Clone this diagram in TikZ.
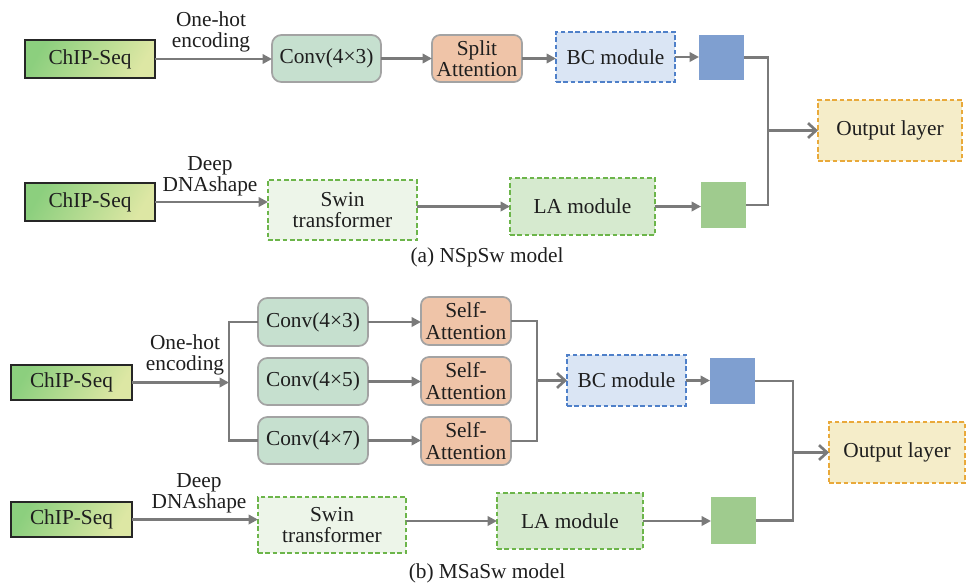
\documentclass[tikz,border=0pt]{standalone}
\usepackage{fontspec}
\setmainfont{Liberation Serif}
\usetikzlibrary{arrows.meta,fit,calc}
\definecolor{chipA}{HTML}{8CCF7E}
\definecolor{chipB}{HTML}{DDE7A4}
\definecolor{convfill}{HTML}{C6E0CF}
\definecolor{bordgray}{HTML}{A3A3A3}
\definecolor{attfill}{HTML}{EFC4A8}
\definecolor{bcblue}{HTML}{4F80C9}
\definecolor{bcfill}{HTML}{DAE5F4}
\definecolor{sqblue}{HTML}{7F9FD0}
\definecolor{sqgreen}{HTML}{9FCB8E}
\definecolor{outorange}{HTML}{E9A93A}
\definecolor{outfill}{HTML}{F5EDC9}
\definecolor{swinborder}{HTML}{6CB54A}
\definecolor{swinfill}{HTML}{EDF5E9}
\definecolor{lafill}{HTML}{D6EACF}
\definecolor{arrgray}{HTML}{7A7A7A}
\definecolor{txt}{HTML}{1E1E1E}
\begin{document}
\begin{tikzpicture}[x=0.75pt,y=-0.75pt,
  font=\rmfamily\fontsize{16}{16}\selectfont, text=txt,
  every node/.style={inner sep=0pt, outer sep=0pt, align=center},
  chipbox/.style={draw=black!85, line width=0.8pt, left color=chipA, right color=chipB, shading angle=60},
  convbox/.style={draw=bordgray, line width=1.3pt, fill=convfill, rounded corners=7pt},
  attbox/.style={draw=bordgray, line width=1.3pt, fill=attfill, rounded corners=6pt},
  bcbox/.style={draw=bcblue, line width=1.3pt, dash pattern=on 3.5pt off 2pt, fill=bcfill},
  swinbox/.style={draw=swinborder, line width=1.3pt, dash pattern=on 3.5pt off 2pt, fill=swinfill},
  labox/.style={draw=swinborder, line width=1.3pt, dash pattern=on 3.5pt off 2pt, fill=lafill},
  outbox/.style={draw=outorange, line width=1.3pt, dash pattern=on 3.5pt off 2pt, fill=outfill},
  bsq/.style={fill=sqblue},
  gsq/.style={fill=sqgreen},
  conn/.style={draw=arrgray, line width=2pt},
  arr/.style={conn, -{Triangle[length=7pt,width=7pt]}},
  oarr/.style={conn, -{Straight Barb[length=6pt,width=11pt]}},
]
\useasboundingbox (0,0) rectangle (967,583);

% ---------- (a) ----------
\node[chipbox, fit={(25,40)(155,78)}] (chip1) {};
\node at (chip1.center) {ChIP-Seq};
\node[convbox, fit={(272,35)(381,82)}] (conv1) {};
\node at (conv1.center) {Conv(4×3)};
\node[attbox, fit={(432,35)(522,82)}] (split) {};
\node at (split.center) {Split\\Attention};
\node[bcbox, fit={(556,32)(675,82)}] (bc1) {};
\node at (bc1.center) {BC module};
\node[bsq, fit={(699,35)(744,80)}] (sqb1) {};
\node[outbox, fit={(818,100)(962,161)}] (out1) {};
\node at (out1.center) {Output layer};
\node[gsq, fit={(701,182)(746,228)}] (sqg1) {};
\node[chipbox, fit={(25,183)(155,221)}] (chip2) {};
\node at (chip2.center) {ChIP-Seq};
\node[swinbox, fit={(268,180)(417,240)}] (swin1) {};
\node at (swin1.center) {Swin\\transformer};
\node[labox, fit={(510,178)(655,235)}] (la1) {};
\node at (la1.center) {LA module};
\node (lab1) at (211,32) {One-hot\\encoding};
\node (lab2) at (210,176) {Deep\\DNAshape};
\node (capa) at (487,257) {(a) NSpSw model};
\coordinate (j1) at (768,130.5);

\draw[arr] (chip1.east) -- (chip1.east -| conv1.west);
\draw[arr] (conv1.east) -- (split.west);
\draw[arr] (split.east) -- (split.east -| bc1.west);
\draw[arr] (bc1.east) -- (bc1.east -| sqb1.west);
\draw[conn] (sqb1.east) -| (j1);
\draw[conn] (sqg1.east) -| (j1);
\draw[oarr] (j1) -- (out1.west);
\draw[arr] (chip2.east) -- (chip2.east -| swin1.west);
\draw[arr] (la1.west -| swin1.east) -- (la1.west);
\draw[arr] (la1.east) -- (la1.east -| sqg1.west);

% ---------- (b) ----------
\node[chipbox, fit={(11,365)(132,400)}] (chip3) {};
\node at (chip3.center) {ChIP-Seq};
\node[convbox, fit={(258,298)(368,346)}] (conv3) {};
\node at (conv3.center) {Conv(4×3)};
\node[convbox, fit={(258,358)(368,405)}] (conv5) {};
\node at (conv5.center) {Conv(4×5)};
\node[convbox, fit={(258,417)(368,464)}] (conv7) {};
\node at (conv7.center) {Conv(4×7)};
\node[attbox, fit={(421,297)(511,345)}] (sa1) {};
\node at (sa1.center) {Self-\\Attention};
\node[attbox, fit={(421,357)(511,405)}] (sa2) {};
\node at (sa2.center) {Self-\\Attention};
\node[attbox, fit={(421,417)(511,465)}] (sa3) {};
\node at (sa3.center) {Self-\\Attention};
\node[bcbox, fit={(567,355)(686,406)}] (bc2) {};
\node at (bc2.center) {BC module};
\node[bsq, fit={(710,358)(755,404)}] (sqb2) {};
\node[gsq, fit={(711,497)(756,544)}] (sqg2) {};
\node[outbox, fit={(829,422)(965,483)}] (out2) {};
\node at (out2.center) {Output layer};
\node[chipbox, fit={(11,502)(132,537)}] (chip4) {};
\node at (chip4.center) {ChIP-Seq};
\node[swinbox, fit={(258,497)(406,553)}] (swin2) {};
\node at (swin2.center) {Swin\\transformer};
\node[labox, fit={(497,493)(643,549)}] (la2) {};
\node at (la2.center) {LA module};
\node (lab3) at (185,355) {One-hot\\encoding};
\node (lab4) at (199,493) {Deep\\DNAshape};
\node (capb) at (487,573) {(b) MSaSw model};
\coordinate (jl) at (229,382.5);
\coordinate (jr) at (537,380.5);
\coordinate (j2) at (793,452.5);

\draw[conn] (conv3.west) -| (jl) |- (conv7.west);
\draw[arr] (chip3.east) -- (jl);
\draw[arr] (conv3.east) -- (conv3.east -| sa1.west);
\draw[arr] (conv5.east) -- (conv5.east -| sa2.west);
\draw[arr] (conv7.east) -- (conv7.east -| sa3.west);
\draw[conn] (sa1.east) -| (jr) |- (sa3.east);
\draw[oarr] (jr) -- (bc2.west);
\draw[arr] (bc2.east) -- (bc2.east -| sqb2.west);
\draw[conn] (sqb2.east) -| (j2);
\draw[conn] (sqg2.east) -| (j2);
\draw[oarr] (j2) -- (out2.west);
\draw[arr] (chip4.east) -- (chip4.east -| swin2.west);
\draw[arr] (la2.west -| swin2.east) -- (la2.west);
\draw[arr] (la2.east) -- (la2.east -| sqg2.west);
\end{tikzpicture}
\end{document}
